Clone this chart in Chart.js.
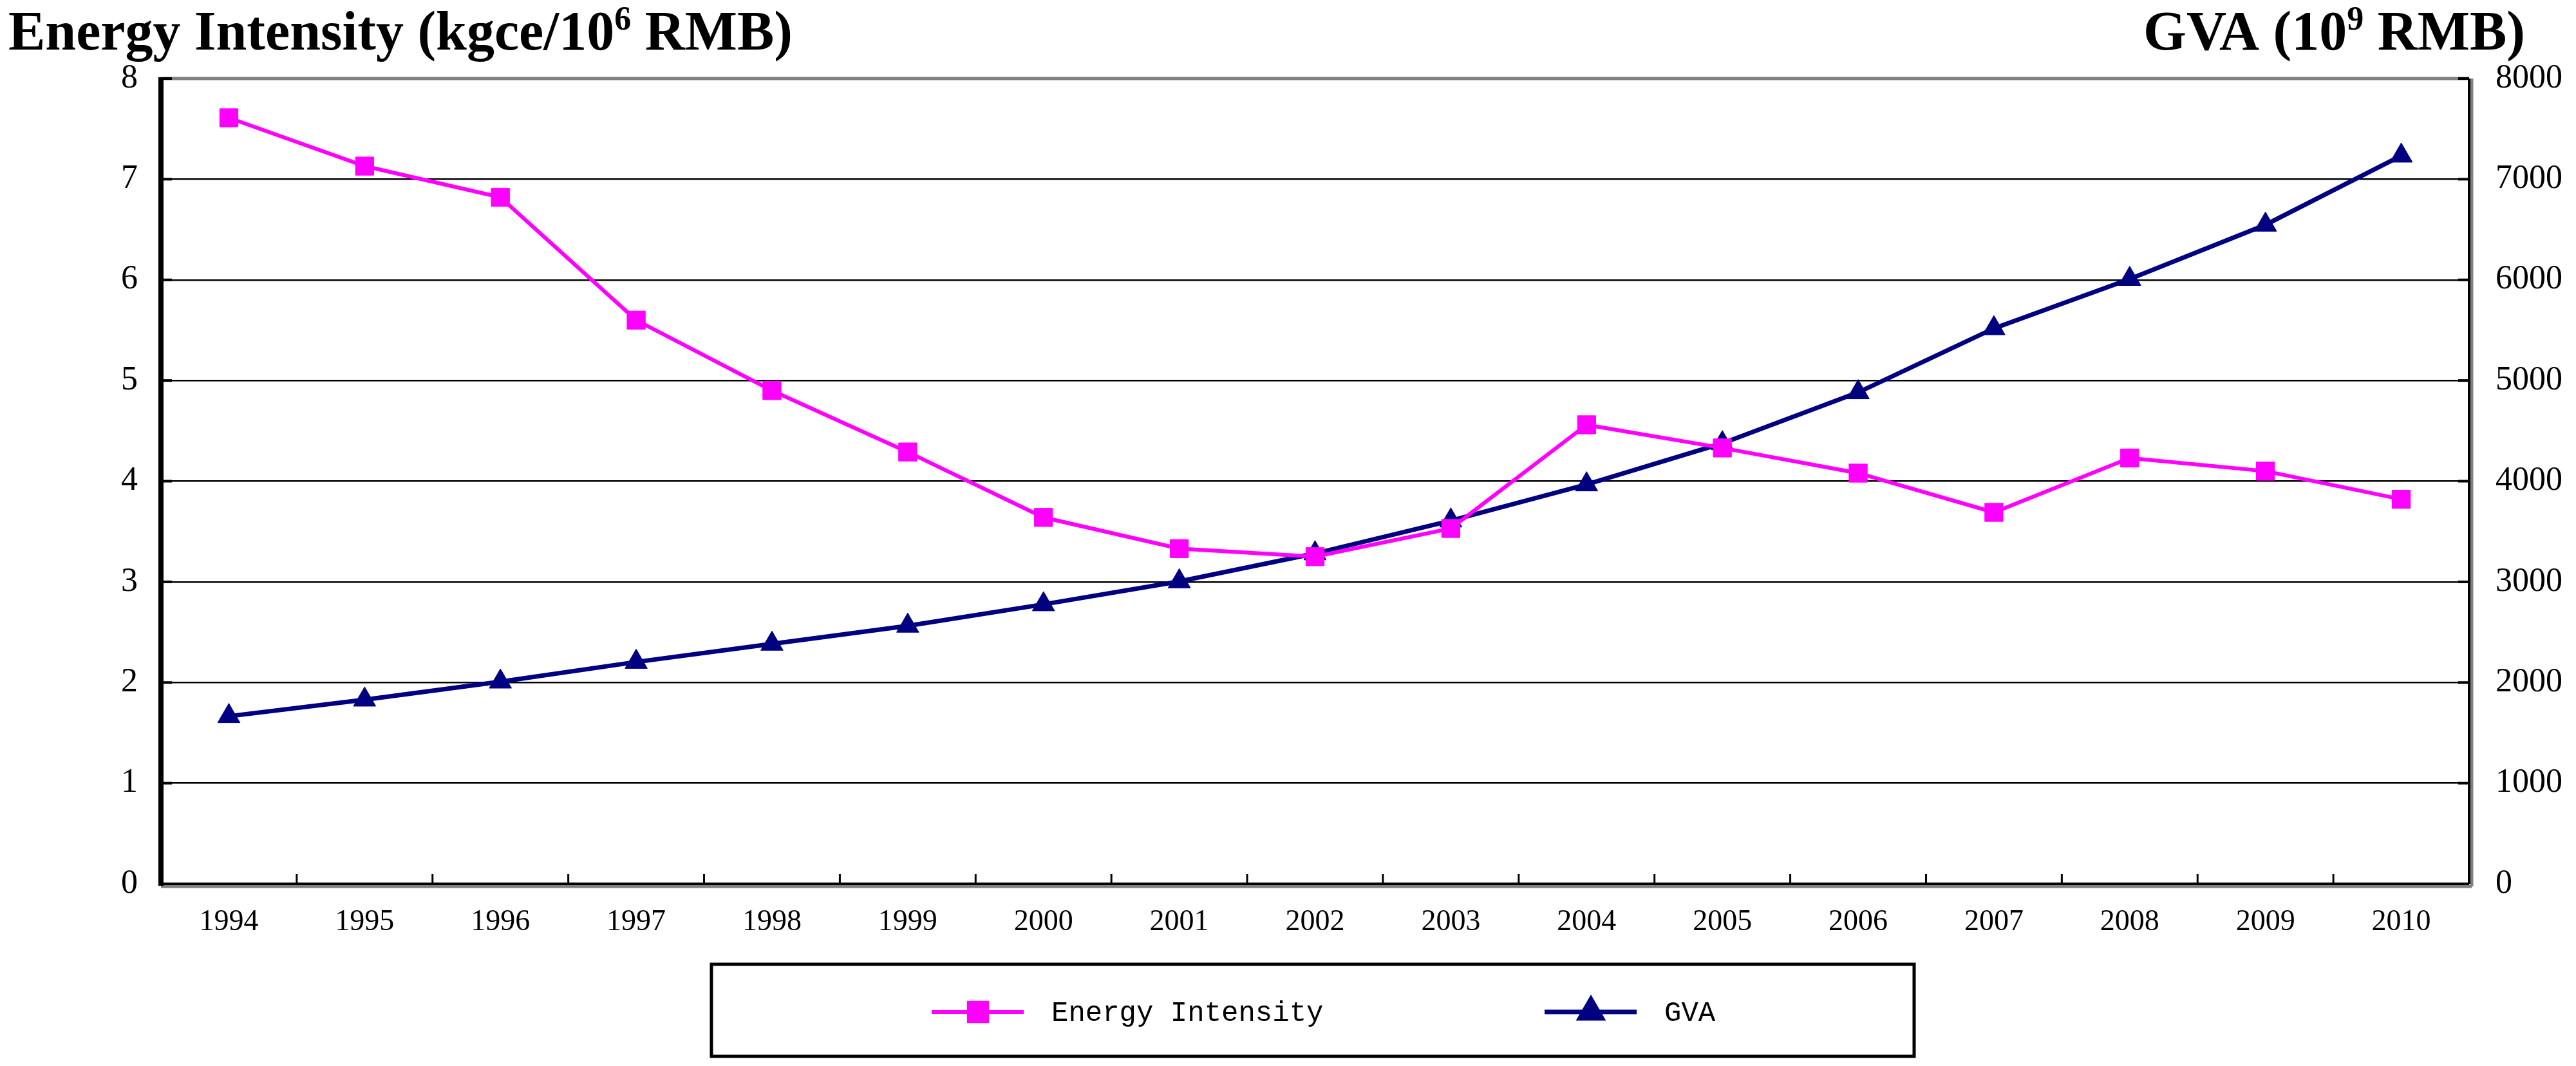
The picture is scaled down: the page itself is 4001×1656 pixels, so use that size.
<!DOCTYPE html>
<html><head><meta charset="utf-8">
<script src="https://cdn.jsdelivr.net/npm/chart.js@4/dist/chart.umd.min.js"></script>
<style>html,body{margin:0;padding:0;background:#fff;}canvas{display:block;}</style>
</head><body>
<canvas id="c" width="4001" height="1656"></canvas>
<script>
// ---- data ----
const years = ['1994','1995','1996','1997','1998','1999','2000','2001','2002','2003','2004','2005','2006','2007','2008','2009','2010'];
const energyIntensity = [7.61, 7.13, 6.82, 5.60, 4.90, 4.29, 3.64, 3.33, 3.25, 3.53, 4.56, 4.33, 4.08, 3.69, 4.23, 4.10, 3.82];
const gva = [1665, 1829, 2008, 2204, 2384, 2563, 2776, 3004, 3282, 3608, 3967, 4376, 4882, 5518, 6008, 6547, 7233];
const seriesNames = ['Energy Intensity', 'GVA'];
const leftTitle = [['Energy Intensity (kgce/10', false], ['6', true], [' RMB)', false]];
const rightTitle = [['GVA (10', false], ['9', true], [' RMB)', false]];

const PINK = '#FF00FF', NAVY = '#000080';
const SERIF = '"Liberation Serif", "Times New Roman", serif';

function drawRich(ctx, parts, x, y, size, alignRight) {
  const subSize = Math.round(size * 0.6);
  let total = 0;
  parts.forEach(([t, sup]) => {
    ctx.font = 'bold ' + (sup ? subSize : size) + 'px ' + SERIF;
    total += ctx.measureText(t).width;
  });
  let cx = alignRight ? x - total : x;
  ctx.textAlign = 'left';
  ctx.textBaseline = 'alphabetic';
  parts.forEach(([t, sup]) => {
    ctx.font = 'bold ' + (sup ? subSize : size) + 'px ' + SERIF;
    ctx.fillText(t, cx, sup ? y - size * 0.36 : y);
    cx += ctx.measureText(t).width;
  });
}

const decor = {
  id: 'decor',
  beforeDatasetsDraw(chart) {
    const ctx = chart.ctx, a = chart.chartArea;
    const x = chart.scales.x, y = chart.scales.y;
    ctx.save();
    ctx.strokeStyle = '#808080';
    ctx.lineWidth = 5;
    ctx.beginPath();
    ctx.moveTo(a.left, a.top); ctx.lineTo(a.right, a.top);
    ctx.stroke();
    ctx.beginPath(); ctx.moveTo(a.right + 4, a.top); ctx.lineTo(a.right + 4, a.bottom + 4); ctx.stroke();
    ctx.beginPath(); ctx.moveTo(a.left, a.bottom + 4); ctx.lineTo(a.right + 4, a.bottom + 4); ctx.stroke();
    ctx.strokeStyle = '#000';
    ctx.lineWidth = 4;
    ctx.beginPath(); ctx.moveTo(a.right, a.top); ctx.lineTo(a.right, a.bottom); ctx.stroke();
    ctx.beginPath(); ctx.moveTo(a.left, a.bottom); ctx.lineTo(a.right, a.bottom); ctx.stroke();
    ctx.lineWidth = 8;
    ctx.beginPath(); ctx.moveTo(a.left, a.top - 2); ctx.lineTo(a.left, a.bottom + 3); ctx.stroke();
    ctx.lineWidth = 4;
    y.ticks.forEach(t => {
      const py = y.getPixelForValue(t.value);
      ctx.beginPath(); ctx.moveTo(a.left, py); ctx.lineTo(a.left + 17, py); ctx.stroke();
    });
    const y1 = chart.scales.y1;
    y1.ticks.forEach(t => {
      const py = y1.getPixelForValue(t.value);
      ctx.beginPath(); ctx.moveTo(a.right, py); ctx.lineTo(a.right - 17, py); ctx.stroke();
    });
    ctx.lineWidth = 3;
    const n = years.length;
    for (let i = 1; i < n; i++) {
      const px = (x.getPixelForValue(i - 1) + x.getPixelForValue(i)) / 2;
      ctx.beginPath(); ctx.moveTo(px, a.bottom); ctx.lineTo(px, a.bottom - 15); ctx.stroke();
    }
    ctx.restore();
  },
  afterDraw(chart) {
    const ctx = chart.ctx;
    ctx.save();
    ctx.fillStyle = '#000';
    drawRich(ctx, leftTitle, 13, 77, 86, false);
    drawRich(ctx, rightTitle, 3922, 77, 86, true);
    ctx.strokeStyle = '#000';
    ctx.lineWidth = 5;
    ctx.strokeRect(1105, 1498, 1868, 143);
    const items = [
      { ds: chart.data.datasets[0], lx: 1447, tx: 1633 },
      { ds: chart.data.datasets[1], lx: 2399, tx: 2585 }
    ];
    const cy = 1572;
    items.forEach(it => {
      const ds = it.ds;
      ctx.strokeStyle = ds.borderColor;
      ctx.lineWidth = ds.borderWidth;
      ctx.beginPath(); ctx.moveTo(it.lx, cy); ctx.lineTo(it.lx + 143, cy); ctx.stroke();
      ctx.fillStyle = ds.pointBackgroundColor;
      Chart.helpers.drawPoint(ctx, { pointStyle: ds.pointStyle, radius: ds.pointRadius, rotation: 0, borderWidth: 1 }, it.lx + 72, cy);
      ctx.fillStyle = '#000';
      ctx.font = '44px "Liberation Mono", monospace';
      ctx.textAlign = 'left';
      ctx.textBaseline = 'middle';
      ctx.fillText(ds.label, it.tx, cy + 2);
    });
    ctx.restore();
  }
};

new Chart(document.getElementById('c'), {
  type: 'line',
  data: {
    labels: years,
    datasets: [
      {
        label: seriesNames[0], data: energyIntensity, yAxisID: 'y',
        borderColor: PINK, backgroundColor: PINK, borderWidth: 6,
        pointStyle: 'rect', pointRadius: 20, pointBackgroundColor: PINK, pointBorderColor: PINK, pointBorderWidth: 1,
        tension: 0
      },
      {
        label: seriesNames[1], data: gva, yAxisID: 'y1',
        borderColor: NAVY, backgroundColor: NAVY, borderWidth: 7,
        pointStyle: 'triangle', pointRadius: 20, pointBackgroundColor: NAVY, pointBorderColor: NAVY, pointBorderWidth: 1,
        tension: 0
      }
    ]
  },
  options: {
    responsive: false, animation: false, devicePixelRatio: 1,
    layout: { padding: { top: 122, bottom: 183, left: 0, right: 0 } },
    plugins: { legend: { display: false }, title: { display: false }, tooltip: { enabled: false } },
    scales: {
      x: {
        type: 'category', offset: true,
        grid: { display: false, drawTicks: false },
        border: { display: false },
        ticks: { color: '#000', font: { family: SERIF, size: 46 }, padding: 32, maxRotation: 0, autoSkip: false },
        afterFit(s) { s.height = 100; }
      },
      y: {
        position: 'left', min: 0, max: 8,
        ticks: { stepSize: 1, color: '#000', font: { family: SERIF, size: 52 }, padding: 36, callback: v => String(v) },
        grid: { color: '#000', lineWidth: 2.5, drawTicks: false },
        border: { display: false },
        afterFit(s) { s.width = 250; }
      },
      y1: {
        position: 'right', min: 0, max: 8000,
        ticks: { stepSize: 1000, color: '#000', font: { family: SERIF, size: 52 }, padding: 41, callback: v => String(v) },
        grid: { display: false, drawTicks: false },
        border: { display: false },
        afterFit(s) { s.width = 166; }
      }
    }
  },
  plugins: [decor]
});
</script>
</body></html>
